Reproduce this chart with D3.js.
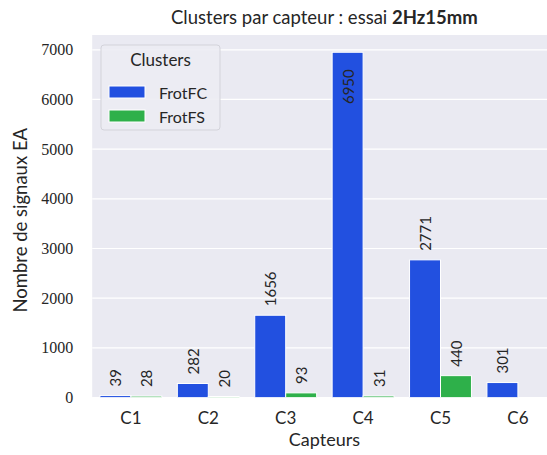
<!DOCTYPE html>
<html>
<head>
<meta charset="utf-8">
<script src="https://cdn.jsdelivr.net/npm/d3@7"></script>
<style>
  html, body { margin: 0; padding: 0; background: #fff; }
  svg { display: block; }
  text { fill: #262626; }
</style>
</head>
<body>
<svg id="chart" width="547" height="455"></svg>
<script>
// Signal counts per sensor and cluster
const categories = ["C1", "C2", "C3", "C4", "C5", "C6"];
const seriesNames = ["FrotFC", "FrotFS"];
const frotFC = [39, 282, 1656, 6950, 2771, 301];
const frotFS = [28, 20, 93, 31, 440, null];
const yTicks = [0, 1000, 2000, 3000, 4000, 5000, 6000, 7000];
const colors = ["#2250e0", "#2eb04a"];

const svg = d3.select("#chart");
const plot = { left: 92.2, right: 556.6, top: 35, bottom: 397.5 };
const sans = "Lato, 'DejaVu Sans', sans-serif";

const maxVal = d3.max(frotFC.concat(frotFS.filter(v => v != null)));
const y = d3.scaleLinear().domain([0, maxVal * 1.05]).range([plot.bottom, plot.top]);
const x = d3.scaleBand().domain(categories).range([plot.left, plot.right]).padding(0);
const xHue = d3.scaleBand().domain(seriesNames)
  .range([x.bandwidth() * 0.1, x.bandwidth() * 0.9]).padding(0);

svg.append("defs").append("clipPath").attr("id", "plotclip")
  .append("rect").attr("x", plot.left).attr("y", plot.top)
  .attr("width", plot.right - plot.left).attr("height", plot.bottom - plot.top);

// Background and grid
svg.append("rect").attr("x", plot.left).attr("y", plot.top)
  .attr("width", plot.right - plot.left).attr("height", plot.bottom - plot.top)
  .attr("fill", "#eaeaf2");

svg.append("g").selectAll("line").data(yTicks).join("line")
  .attr("x1", plot.left).attr("x2", plot.right)
  .attr("y1", d => y(d)).attr("y2", d => y(d))
  .attr("stroke", "#ffffff").attr("stroke-width", 1.2);

// Y axis labels
const yAxis = d3.axisLeft(y).tickValues(yTicks).tickSize(0).tickPadding(0).tickFormat(d3.format("d"));
const gy = svg.append("g").attr("transform", `translate(${plot.left - 19},0)`).call(yAxis);
gy.select(".domain").remove();
gy.selectAll("text").attr("font-family", "'Liberation Serif', 'DejaVu Serif', serif")
  .attr("font-size", 16).attr("fill", "#333333");

// X axis labels
const xAxis = d3.axisBottom(x).tickSize(0).tickPadding(0);
const gx = svg.append("g").attr("transform", `translate(0,${plot.bottom + 14})`).call(xAxis);
gx.select(".domain").remove();
gx.selectAll("text").attr("font-family", sans)
  .attr("font-size", 17).attr("fill", "#333333");

// Bars
const rows = [];
categories.forEach((c, i) => {
  rows.push({ cat: c, series: "FrotFC", value: frotFC[i], color: colors[0] });
  rows.push({ cat: c, series: "FrotFS", value: frotFS[i], color: colors[1] });
});
const present = rows.filter(d => d.value != null);

const bars = svg.append("g").attr("clip-path", "url(#plotclip)");
bars.selectAll("rect").data(present).join("rect")
  .attr("x", d => x(d.cat) + xHue(d.series))
  .attr("width", xHue.bandwidth())
  .attr("y", d => y(d.value))
  .attr("height", d => y(0) - y(d.value))
  .attr("fill", d => d.color)
  .attr("stroke", "#ffffff").attr("stroke-width", 1);

// Value labels, rotated; placed inside the bar if they would leave the axes
const labels = svg.append("g");
labels.selectAll("text").data(present).join("text")
  .attr("font-family", sans)
  .attr("font-size", 15)
  .attr("dominant-baseline", "central")
  .text(d => d.value)
  .each(function (d) {
    const t = d3.select(this);
    const len = this.getComputedTextLength();
    const cx = x(d.cat) + xHue(d.series) + xHue.bandwidth() / 2;
    const top = y(d.value);
    if (top - 9 - len < plot.top) {
      t.attr("text-anchor", "end").attr("fill", "#e6e8f8")
        .attr("transform", `translate(${cx},${top + 17}) rotate(-90)`);
    } else {
      t.attr("text-anchor", "start").attr("fill", "#333333")
        .attr("transform", `translate(${cx},${top - 9}) rotate(-90)`);
    }
  });

// Title
const title = svg.append("text")
  .attr("x", (plot.left + plot.right) / 2).attr("y", 24)
  .attr("text-anchor", "middle")
  .attr("font-family", sans)
  .attr("font-size", 18.5);
title.append("tspan").text("Clusters par capteur : essai ");
title.append("tspan").attr("font-weight", "bold").text("2Hz15mm");

// Axis titles
svg.append("text")
  .attr("x", (plot.left + plot.right) / 2).attr("y", 446)
  .attr("text-anchor", "middle")
  .attr("font-family", sans)
  .attr("font-size", 18)
  .text("Capteurs");

svg.append("text")
  .attr("transform", `translate(27,${(plot.top + plot.bottom) / 2 + 4}) rotate(-90)`)
  .attr("text-anchor", "middle")
  .attr("font-family", sans)
  .attr("font-size", 18.5)
  .text("Nombre de signaux EA");

// Legend
const lg = svg.append("g").attr("transform", "translate(101,45)");
lg.append("rect").attr("width", 119).attr("height", 85).attr("rx", 3)
  .attr("fill", "#ececf3").attr("fill-opacity", 0.9)
  .attr("stroke", "#d3d3da").attr("stroke-width", 1);
lg.append("text").attr("x", 59.5).attr("y", 21).attr("text-anchor", "middle")
  .attr("font-family", sans).attr("font-size", 17).attr("fill", "#333333")
  .text("Clusters");
const items = lg.selectAll("g.item").data(seriesNames).join("g")
  .attr("class", "item")
  .attr("transform", (d, i) => `translate(8,${41 + i * 24})`);
items.append("rect").attr("width", 36).attr("height", 12)
  .attr("fill", (d, i) => colors[i]).attr("stroke", "#fff").attr("stroke-width", 1);
items.append("text").attr("x", 50).attr("y", 6).attr("dominant-baseline", "central")
  .attr("font-family", sans).attr("font-size", 16).attr("fill", "#333333")
  .text(d => d);
</script>
</body>
</html>
